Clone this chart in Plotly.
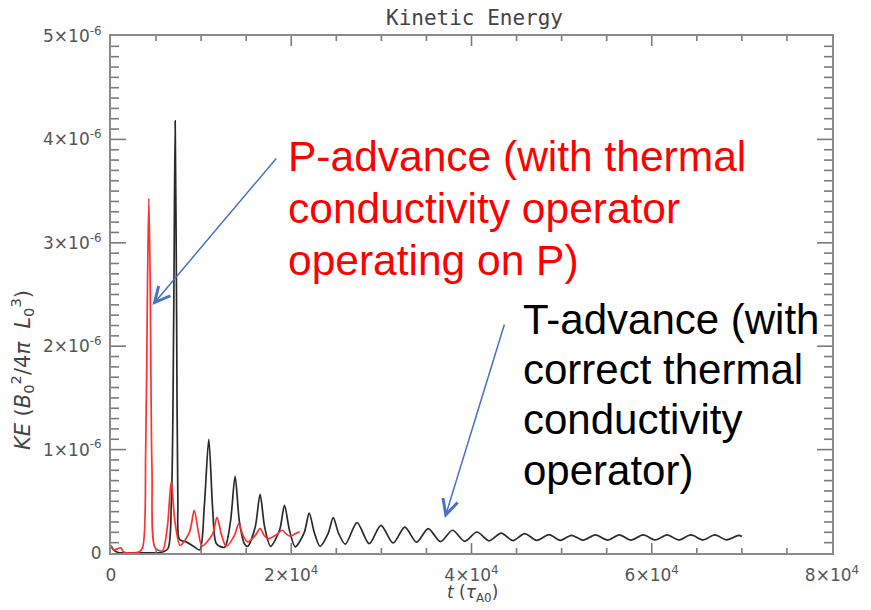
import plotly.graph_objects as go

# ---- data (KE in units of 1e-6) ----
t_black = [0, 300, 800, 3000, 5500, 6300, 6700, 6950, 7120, 7280, 7420, 7600, 8400, 9150, 9850,
           10350, 10850, 11300, 11700, 12600, 13250, 13770, 14250, 14800, 15160, 16000, 16540, 17050,
           17710, 18700, 19250, 19800, 20450, 21450, 21990, 22550, 23190, 24100, 24660, 25250, 26000,
           27300, 28650, 29950, 31300, 32600, 33900, 35200, 36550, 37900, 39250, 40600, 41950, 43300,
           44600, 45900, 47250, 48600, 49850, 51100, 52400, 53750, 55100, 56400, 57700, 59050, 60400,
           61700, 63000, 64350, 65700, 67000, 68300, 69650, 70000]
ke_black_e6 = [0.07, 0.03, 0.005, 0.003, 0.005, 0.04, 0.5, 2.2, 4.18, 2.3, 0.5, 0.13, 0.105, 0.065, 0.03,
               0.45, 1.10, 0.4, 0.09, 0.055, 0.3, 0.742, 0.3, 0.09, 0.065, 0.25, 0.568, 0.25,
               0.065, 0.22, 0.461, 0.22, 0.06, 0.2, 0.387, 0.2, 0.065, 0.19, 0.342, 0.19, 0.085,
               0.294, 0.09, 0.268, 0.097, 0.25, 0.105, 0.236, 0.11, 0.22, 0.113, 0.203, 0.118, 0.193,
               0.12, 0.188, 0.122, 0.178, 0.123, 0.171, 0.124, 0.175, 0.125, 0.176, 0.125, 0.175, 0.126,
               0.176, 0.126, 0.175, 0.127, 0.175, 0.127, 0.17, 0.16]

t_red = [0, 300, 1100, 1400, 3000, 3500, 3850, 4050, 4200, 4350, 4550, 4900, 5700, 6250, 6680, 7100,
         7670, 8700, 9240, 9700, 10100, 11250, 11760, 12250, 12780, 13700, 14170, 14650, 15160, 16000,
         16540, 17000, 17420, 18400, 18990, 19500, 19900, 20400, 20930]
ke_red_e6 = [0.07, 0.03, 0.05, 0.01, 0.005, 0.05, 1.0, 2.6, 3.43, 2.6, 0.8, 0.05, 0.02, 0.25, 0.687, 0.3,
             0.074, 0.2, 0.413, 0.2, 0.068, 0.18, 0.345, 0.18, 0.066, 0.17, 0.284, 0.17, 0.107, 0.17,
             0.236, 0.17, 0.139, 0.18, 0.22, 0.18, 0.161, 0.185, 0.205]

x_tickvals = [0, 20000, 40000, 60000, 80000]
x_ticktext = ["0", "2×10<sup>4</sup>", "4×10<sup>4</sup>", "6×10<sup>4</sup>", "8×10<sup>4</sup>"]
y_tickvals = [0, 1e-6, 2e-6, 3e-6, 4e-6, 5e-6]
y_ticktext = ["0", "1×10<sup>-6</sup>", "2×10<sup>-6</sup>", "3×10<sup>-6</sup>",
              "4×10<sup>-6</sup>", "5×10<sup>-6</sup>"]
x_minor_step = 5000
y_minor_step = 1e-7
x_max, y_max = 80000, 5e-6

red_lines = ["P-advance (with thermal", "conductivity operator", "operating on P)"]
black_lines = ["T-advance (with", "correct thermal", "conductivity", "operator)"]

# ---- layout helpers (pixel -> paper) ----
L, R, T, B = 111, 30, 36, 57
W, H = 871, 610
PW, PH = W - L - R, H - T - B


def px(x):
    return (x - L) / PW


def py(y):
    return (H - B - y) / PH


AX = "#8a8a8a"
TK = "#7a7a7a"

fig = go.Figure()
fig.add_trace(go.Scatter(x=t_black, y=[v * 1e-6 for v in ke_black_e6], mode="lines",
                         line=dict(color="#2a2a2a", width=1.7, shape="spline", smoothing=0.8),
                         name="T-advance"))
fig.add_trace(go.Scatter(x=t_red, y=[v * 1e-6 for v in ke_red_e6], mode="lines",
                         line=dict(color="#ff3030", width=1.7, shape="spline", smoothing=0.8),
                         name="P-advance"))

fig.update_layout(
    xaxis=dict(range=[0, x_max], tickmode="array", tickvals=x_tickvals, ticktext=x_ticktext,
               ticks="", showline=True, linecolor=AX, linewidth=2, mirror=True, showgrid=False,
               zeroline=False, ticklabelstandoff=6,
               tickfont=dict(family="DejaVu Sans", size=17, color="#555555")),
    yaxis=dict(range=[0, y_max], tickmode="array", tickvals=y_tickvals, ticktext=y_ticktext,
               ticks="", showline=True, linecolor=AX, linewidth=2, mirror=True, showgrid=False,
               zeroline=False, ticklabelstandoff=4,
               tickfont=dict(family="DejaVu Sans", size=17, color="#555555")),
)

# ---- inside tick marks on all four sides (pixel-length lines anchored on the axes) ----
shapes = []
x_ticks_all = [i * x_minor_step for i in range(1, int(x_max / x_minor_step))]
for v in x_ticks_all:
    ln = 10 if v in x_tickvals else 5
    for anchor, sgn in ((0, 1), (y_max, -1)):
        shapes.append(dict(type="line", xref="x", yref="y", ysizemode="pixel", yanchor=anchor,
                           x0=v, x1=v, y0=0, y1=sgn * ln,
                           line=dict(color=TK, width=1.6), layer="above"))
n_y = int(round(y_max / y_minor_step))
for i in range(1, n_y):
    v = i * y_minor_step
    ln = 15 if i % 10 == 0 else 8
    for anchor, sgn in ((0, 1), (x_max, -1)):
        shapes.append(dict(type="line", xref="x", yref="y", xsizemode="pixel", xanchor=anchor,
                           x0=0, x1=sgn * ln, y0=v, y1=v,
                           line=dict(color=TK, width=1.6), layer="above"))

ann = []
# title
ann.append(dict(text="Kinetic Energy", xref="paper", yref="paper", x=px(479), y=py(18),
                showarrow=False, font=dict(family="DejaVu Sans Mono", size=21, color="#444444"),
                xanchor="center", yanchor="middle"))
# axis titles
ann.append(dict(text="<i>t</i> (<i>τ</i><sub>A0</sub>)", xref="paper", yref="paper",
                x=px(477), y=py(594), showarrow=False,
                font=dict(family="DejaVu Sans", size=17, color="#444444"),
                xanchor="center", yanchor="middle"))
ann.append(dict(text="<i>KE</i> (<i>B</i><sub>0</sub><sup>2</sup>/4<i>π</i>  <i>L</i><sub>0</sub><sup>3</sup>)",
                xref="paper", yref="paper", x=px(21), y=py(370), textangle=-90, showarrow=False,
                font=dict(family="DejaVu Sans", size=21, color="#444444"),
                xanchor="center", yanchor="middle"))
# red block
for i, line in enumerate(red_lines):
    ann.append(dict(text=line, xref="paper", yref="paper", x=px(288), y=py(156 + 52 * i),
                    showarrow=False, font=dict(family="Liberation Sans", size=42.5, color="#ff0000"),
                    xanchor="left", yanchor="middle"))
# black block
for i, line in enumerate(black_lines):
    ann.append(dict(text=line, xref="paper", yref="paper", x=px(526), y=py(319 + 50.5 * i),
                    showarrow=False, font=dict(family="Liberation Sans", size=42, color="#000000"),
                    xanchor="left", yanchor="middle"))
# arrows
ann.append(dict(text="", xref="paper", yref="paper", x=px(153), y=py(305), ax=125, ay=-148,
                axref="pixel", ayref="pixel", showarrow=True, arrowhead=5, arrowsize=2,
                arrowwidth=1.5, arrowcolor="#4472c4"))
ann.append(dict(text="", xref="paper", yref="paper", x=px(449), y=py(518), ax=60, ay=-195,
                axref="pixel", ayref="pixel", showarrow=True, arrowhead=5, arrowsize=2,
                arrowwidth=1.5, arrowcolor="#4472c4"))

fig.update_layout(width=W, height=H, margin=dict(l=L, r=R, t=T, b=B),
                  paper_bgcolor="white", plot_bgcolor="white", showlegend=False,
                  annotations=ann, shapes=shapes)

fig.write_html("out.html")
